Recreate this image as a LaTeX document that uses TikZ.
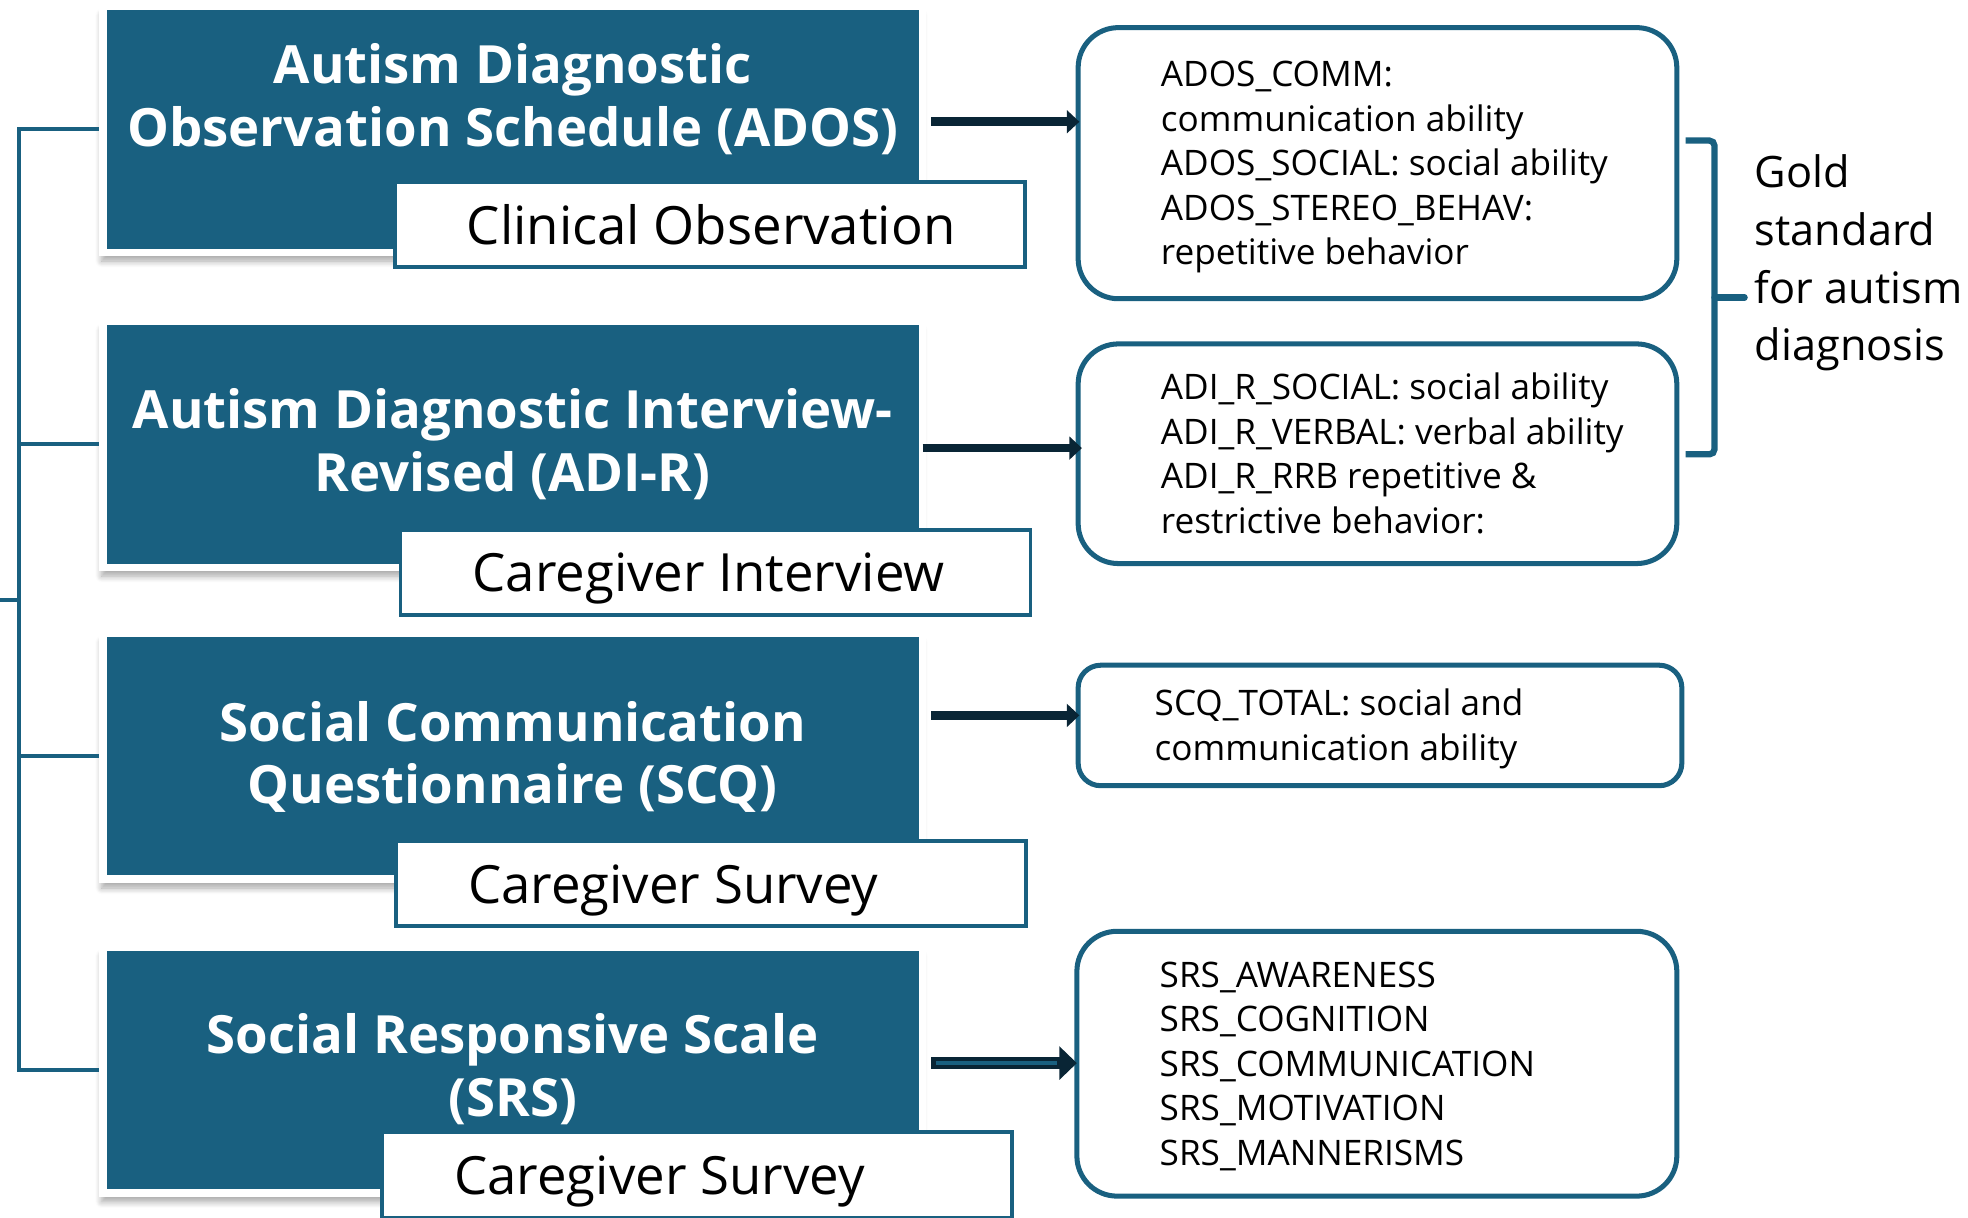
\documentclass[tikz,border=0pt]{standalone}
\usepackage{fontspec}
\setmainfont{Open Sans}
\usetikzlibrary{arrows.meta, positioning, calc, shadows.blur}
\definecolor{toolBlue}{RGB}{25,96,128}
\definecolor{arrowNavy}{RGB}{9,37,53}

% left aligned block of lines inside a box of fixed width
\newcommand{\leftlines}[2]{\makebox[#1][l]{\raisebox{-3pt}[\height][\depth]{\begin{tabular}{@{}l@{}}#2\end{tabular}}}}

\tikzset{
  tool/.style={rectangle, fill=toolBlue, draw=white, line width=6pt, minimum width=653pt, minimum height=196pt, inner sep=0pt,
    blur shadow={shadow xshift=-1pt, shadow yshift=-7pt, shadow blur radius=5pt, shadow blur steps=8, shadow opacity=35}},
  tooltitle/.style={text=white, font=\bfseries\fontsize{42}{50}\selectfont, align=center, inner sep=0pt},
  method/.style={rectangle, fill=white, draw=toolBlue, line width=3pt, minimum width=502pt, minimum height=68pt,
    inner xsep=57.5pt, inner ysep=0pt, text height=31pt, text depth=0pt, font=\fontsize{42}{48}\selectfont},
  measures/.style={rectangle, rounded corners=32pt, fill=white, draw=toolBlue, line width=4pt,
    inner xsep=66pt, inner ysep=0pt, font=\fontsize{28}{35.5}\selectfont},
  link/.style={draw=toolBlue, line width=3pt},
  flow/.style={draw=arrowNavy, line width=7pt, -{Triangle[length=10pt, width=18pt]}},
  brace/.style={draw=toolBlue, line width=5pt, rounded corners=4pt},
  gold/.style={align=left, inner sep=0pt, font=\fontsize{34.5}{46}\selectfont},
}

\begin{document}
\begin{tikzpicture}[x=1pt, y=-1pt]
  \useasboundingbox (0,0) rectangle (1568,970);

  % instruments
  \node[tool] (ados) at (408.5,103) {};
  \node[tool] (adir) at (408.5,354) {};
  \node[tool] (scq) at (408.5,602.5) {};
  \node[tool] (srs) at (408.5,852.5) {};

  \node[tooltitle] (adosTitle) at (408.5,79) {Autism Diagnostic\\Observation Schedule (ADOS)};
  \node[tooltitle] (adirTitle) at (408.5,354) {Autism Diagnostic Interview-\\Revised (ADI-R)};
  \node[tooltitle] (scqTitle) at (408.5,603) {Social Communication\\Questionnaire (SCQ)};
  \node[tooltitle] (srsTitle) at (408.5,852) {Social Responsive Scale\\(SRS)};

  % how each one is collected
  \node[method] (adosMethod) at (565.5,179) {\makebox[387pt][l]{Clinical Observation}};
  \node[method] (adirMethod) at (570,456) {\makebox[387pt][l]{Caregiver Interview}};
  \node[method] (scqMethod) at (566.5,704) {\makebox[387pt][l]{Caregiver Survey}};
  \node[method] (srsMethod) at (555.5,936) {\makebox[387pt][l]{Caregiver Survey}};

  % tree on the left
  \coordinate (root) at (-5,478);
  \coordinate (trunk) at (15,478);
  \draw[link] (root) -- (trunk);
  \foreach \instr in {ados,adir,scq,srs}
    \draw[link] (trunk) |- (\instr.west);

  % subscales
  \node[measures, minimum width=477pt, minimum height=216pt] (adosList) at (1097.5,130)
    {\leftlines{345pt}{ADOS\_COMM:\\communication ability\\ADOS\_SOCIAL: social ability\\ADOS\_STEREO\_BEHAV:\\repetitive behavior}};
  \node[measures, minimum width=477pt, minimum height=175pt] (adirList) at (1097.5,361.5)
    {\leftlines{345pt}{ADI\_R\_SOCIAL: social ability\\ADI\_R\_VERBAL: verbal ability\\ADI\_R\_RRB repetitive \&\\restrictive behavior:}};
  \node[measures, rounded corners=18pt, inner xsep=61pt, minimum width=481pt, minimum height=96pt] (scqList) at (1099.5,578)
    {\leftlines{359pt}{SCQ\_TOTAL: social and\\communication ability}};
  \node[measures, minimum width=478pt, minimum height=211pt] (srsList) at (1097,847.5)
    {\leftlines{346pt}{SRS\_AWARENESS\\SRS\_COGNITION\\SRS\_COMMUNICATION\\SRS\_MOTIVATION\\SRS\_MANNERISMS}};

  % arrows
  \draw[flow] ($(ados.east)+(4,-6)$) -- ($(ados.east -| adosList.west)+(3,-6)$);
  \draw[flow] ($(adir.east)+(-3,3)$) -- ($(adir.east -| adirList.west)+(5,3)$);
  \draw[flow] ($(scq.east)+(4,-32.5)$) -- ($(scq.east -| scqList.west)+(3,-32.5)$);
  \draw[flow, line width=10pt, -{Triangle[length=14pt, width=26pt]}] ($(srs.east)+(4,-5.5)$) -- ($(srs.east -| srsList.west)+(2,-5.5)$);
  \draw[toolBlue, line width=3.5pt] ($(srs.east)+(8,-5.5)$) -- ($(srs.east -| srsList.west)+(-14,-5.5)$);

  % gold standard bracket
  \coordinate (braceTop) at (1343,112);
  \coordinate (braceBot) at (1343,362);
  \coordinate (braceTip) at (1366,237);
  \draw[brace] (braceTop) -- ++(23,0) |- (braceBot);
  \draw[brace, line cap=round] (braceTip) -- ++(24,0);
  \node[gold, anchor=north west] (gold) at (1398,123) {Gold\\standard\\for autism\\diagnosis};
\end{tikzpicture}
\end{document}
